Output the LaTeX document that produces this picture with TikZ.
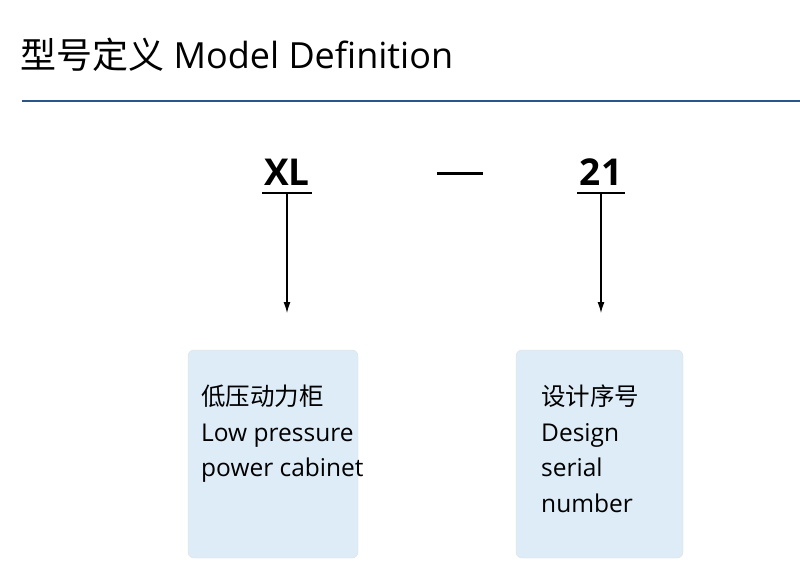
\documentclass[tikz,border=0pt]{standalone}
\usetikzlibrary{arrows.meta}
\usepackage{fontspec}
\setmainfont{Open Sans}
\newfontfamily\cjk{Noto Sans CJK SC}
\begin{document}
\begin{tikzpicture}[x=1pt,y=-1pt,
  box/.style={draw=black!12,fill={rgb,255:red,221;green,236;blue,247},rounded corners=6pt},
  code/.style={font=\fontsize{37}{40}\selectfont\bfseries,inner sep=0pt},
  lbl/.style={anchor=north west,align=left,inner sep=0pt,font=\fontsize{24.5}{35.5}\selectfont},
  arr/.style={-{Latex[length=11pt,width=7pt]},line width=1.2pt}]
\useasboundingbox (0,0) rectangle (800,587);
\fill[white] (0,0) rectangle (800,587);
\node[anchor=west,inner sep=0pt,font=\fontsize{36}{40}\selectfont] (title) at (20,55) {{\cjk 型号定义} Model Definition};
\draw[line width=2.5pt,color={rgb,255:red,40;green,85;blue,140}] (22,101) -- (800,101);
\node[code] (xl) at (287,172) {XL};
\coordinate (d1) at (437,173); \coordinate (d2) at (483,173);
\draw[line width=3pt] (d1) -- (d2);
\node[code] (n21) at (601,172) {21};
\coordinate (u1a) at (262,193); \coordinate (u1b) at (312,193);
\coordinate (u2a) at (577,193); \coordinate (u2b) at (625,193);
\draw[line width=1.2pt] (u1a) -- (u1b);
\draw[line width=1.2pt] (u2a) -- (u2b);
\coordinate (a1) at (287,193); \coordinate (a2) at (601,193);
\node[box,minimum width=170pt,minimum height=208pt] (b1) at (273,454) {};
\node[box,minimum width=167pt,minimum height=208pt] (b2) at (599.5,454) {};
\draw[arr] (a1) -- (a1 |- 0,313);
\draw[arr] (a2) -- (a2 |- 0,313);
\node[lbl] (t1) at (201,385) {{\cjk 低压动力柜}\\Low pressure\\power cabinet};
\node[lbl] (t2) at (541,385) {{\cjk 设计序号}\\Design\\serial\\number};
\end{tikzpicture}
\end{document}
